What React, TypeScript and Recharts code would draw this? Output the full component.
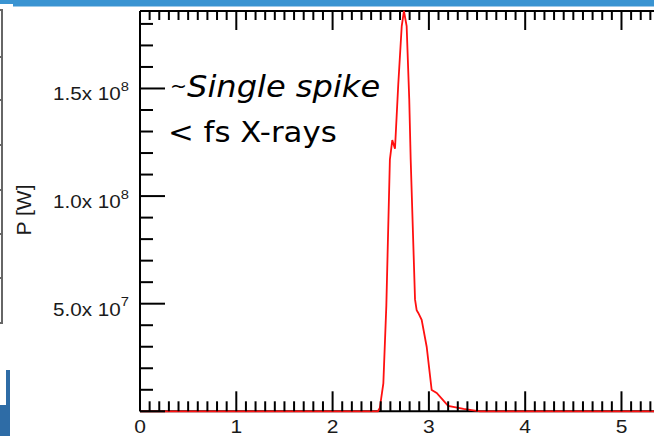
import { LineChart, Line, XAxis, YAxis } from "recharts"

// pulse power vs time (fs)
const timeFs = [0, 2.47, 2.49, 2.527, 2.558, 2.595, 2.62, 2.648, 2.682, 2.718, 2.741, 2.769, 2.796, 2.811, 2.856, 2.873, 2.89, 2.925, 2.977, 3.029, 3.081, 3.2, 3.36, 3.53, 5.4]
const powerW = [0, 0, 1.5e6, 1.3e7, 4.9e7, 1.17e8, 1.26e8, 1.22e8, 1.52e8, 1.79e8, 1.86e8, 1.79e8, 1.45e8, 1.17e8, 5.2e7, 4.7e7, 4.57e7, 4.25e7, 3.0e7, 9.9e6, 8.5e6, 2.5e6, 1.1e6, 0, 0]

const xDomain = [0, 5.4]
const yDomain = [0, 1.86e8]
const xLabels = [0, 1, 2, 3, 4, 5]
const yLabels = [5e7, 1e8, 1.5e8]
const xMinorStep = 0.1
const yMinorStep = 1e7

const rows = timeFs.map((t, i) => ({ t, p: powerW[i] }))

const xTicks = Array.from({ length: Math.round(xDomain[1] / xMinorStep) + 1 }, (_, i) => Math.round(i * xMinorStep * 10) / 10)
const yTicks = Array.from({ length: Math.floor(yDomain[1] / yMinorStep) + 1 }, (_, i) => i * yMinorStep)

const onStep = (v: number, step: number) => Math.abs(v / step - Math.round(v / step)) < 1e-6

const labelFont = "'Liberation Sans', Arial, sans-serif"
const labelColor = "#1a1a1a"

function BottomTick(props: any) {
  const { x, y, payload } = props
  const v = payload.value
  const major = onStep(v, 1)
  return (
    <g>
      <line x1={x} x2={x} y1={y} y2={y - (major ? 20 : 10)} stroke="#000" strokeWidth={2} />
      {xLabels.includes(v) && (
        <text transform={`translate(${x},${y + 22}) scale(1.2,1)`} textAnchor="middle" fontSize={17.5} fontFamily={labelFont} fill={labelColor}>
          {v}
        </text>
      )}
    </g>
  )
}

function TopTick(props: any) {
  const { x, y, payload } = props
  const major = onStep(payload.value, 1)
  return <line x1={x} x2={x} y1={y} y2={y + (major ? 19 : 9)} stroke="#000" strokeWidth={2} />
}

function LeftTick(props: any) {
  const { x, y, payload } = props
  const v = payload.value
  const major = onStep(v, 5e7)
  const exp = v > 0 ? Math.floor(Math.log10(v)) : 0
  const mant = v > 0 ? (v / Math.pow(10, exp)).toFixed(1) : ""
  return (
    <g>
      <line x1={x} x2={x + (major ? 25 : 13)} y1={y} y2={y} stroke="#000" strokeWidth={2} />
      {yLabels.includes(v) && (
        <text transform={`translate(${x - 11},${y + 12}) scale(1.18,1)`} textAnchor="end" fontSize={17.5} fontFamily={labelFont} fill={labelColor}>
          {mant}x 10
          <tspan fontSize={12.5} dy={-9.5}>{exp}</tspan>
        </text>
      )}
    </g>
  )
}

function RightTick(props: any) {
  const { x, y, payload } = props
  const major = onStep(payload.value, 5e7)
  return <line x1={x} x2={x - (major ? 25 : 13)} y1={y} y2={y} stroke="#000" strokeWidth={2} />
}

const axisLine = { stroke: "#000", strokeWidth: 2 }

export default function App() {
  return (
    <div style={{ position: "fixed", left: 0, top: 0, width: 654, height: 436, overflow: "hidden", background: "#fff" }}>
      <div style={{ position: "absolute", left: 0, top: 0 }}>
        <LineChart width={670} height={436} data={rows} margin={{ top: 10, right: 9, bottom: 23.7, left: 139 }}>
          <XAxis xAxisId="b" dataKey="t" type="number" domain={xDomain} ticks={xTicks} interval={0} height={1} tickSize={0} tickMargin={0} tickLine={false} axisLine={axisLine} tick={BottomTick} />
          <XAxis xAxisId="t" orientation="top" dataKey="t" type="number" domain={xDomain} ticks={xTicks} interval={0} height={1} tickSize={0} tickMargin={0} tickLine={false} axisLine={axisLine} tick={TopTick} />
          <YAxis yAxisId="l" type="number" domain={yDomain} ticks={yTicks} interval={0} width={1} tickSize={0} tickMargin={0} tickLine={false} axisLine={axisLine} tick={LeftTick} />
          <YAxis yAxisId="r" orientation="right" type="number" domain={yDomain} ticks={yTicks} interval={0} width={1} tickSize={0} tickMargin={0} tickLine={false} axisLine={axisLine} tick={RightTick} />
          <Line xAxisId="b" yAxisId="l" type="linear" dataKey="p" stroke="#ff1010" strokeWidth={1.8} dot={false} isAnimationActive={false} zIndex={900} />
        </LineChart>
      </div>

      <svg width={654} height={436} style={{ position: "absolute", left: 0, top: 0, pointerEvents: "none" }}>
        {/* slide decorations */}
        <rect x={0} y={0} width={654} height={4} fill="#3a94d2" />
        <rect x={13} y={0} width={641} height={6.5} fill="#3a94d2" />
        <rect x={-10} y={10} width={12} height={313} fill="none" stroke="#666" strokeWidth={2} />
        {[57, 100, 145, 190, 234, 278].map((t) => (
          <line key={t} x1={0} x2={3} y1={t} y2={t} stroke="#666" strokeWidth={2} />
        ))}
        <rect x={6} y={370} width={4} height={40} fill="#2e6ca6" />
        <rect x={0} y={405} width={10} height={31} fill="#2e6ca6" />

        <text transform="translate(31,210) rotate(-90)" textAnchor="middle" fontSize={21} fontFamily={labelFont} fill={labelColor}>
          P [W]
        </text>
        <g transform="translate(170,97) scale(1.07,1)" fontFamily="'DejaVu Sans', sans-serif" fill="#000">
          <text>
            <tspan fontSize={19} dy={-4}>~</tspan>
            <tspan fontSize={30} dy={4} fontStyle="italic">Single spike</tspan>
          </text>
        </g>
        <g transform="translate(168,142) scale(1.1,1)" fontFamily="'DejaVu Sans', sans-serif" fill="#000">
          <text fontSize={28}>&lt; fs X-rays</text>
        </g>
      </svg>
    </div>
  )
}
